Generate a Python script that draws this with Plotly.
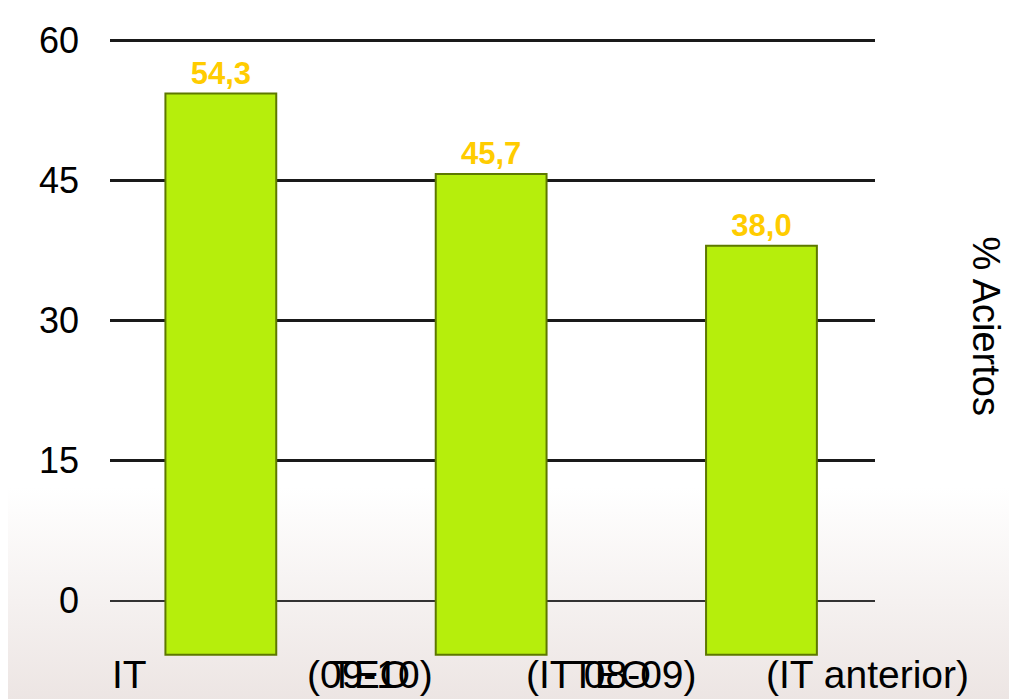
import plotly.graph_objects as go

# datos
CATEGORIAS = ["IT (09-10)", "TEO (IT 08-09)", "TEO (IT anterior)"]
ACIERTOS = [54.3, 45.7, 38.0]
TICKS_Y = [0, 15, 30, 45, 60]
# textos del eje x tal como aparecen (las dos líneas quedan en una sola fila)
ETIQUETAS_X = ["IT", "(09-10)", "TEO", "(IT 08-09)", "TEO", "(IT anterior)"]
POS_ETIQUETAS = [0.026, 0.34, 0.34, 0.655, 0.655, 0.99]

VERDE = "#b6ee0c"
OLIVA = "#5d7800"
AMARILLO = "#ffcc00"
FUENTE = "Liberation Sans, Arial, sans-serif"

BASE = -5.8  # las barras "caen" por debajo del plano del 0

fondo = (
    "data:image/svg+xml;utf8,"
    "<svg xmlns='http://www.w3.org/2000/svg' width='10' height='100' preserveAspectRatio='none'>"
    "<defs><linearGradient id='g' x1='0' y1='0' x2='0' y2='1'>"
    "<stop offset='0' stop-color='%23ffffff'/>"
    "<stop offset='0.68' stop-color='%23ffffff'/>"
    "<stop offset='1' stop-color='%23ebe3e1'/>"
    "</linearGradient></defs>"
    "<rect width='10' height='100' fill='url(%23g)'/></svg>"
)

fig = go.Figure(
    go.Bar(
        x=CATEGORIAS,
        y=[v - BASE for v in ACIERTOS],
        base=BASE,
        customdata=ACIERTOS,
        texttemplate="%{customdata:.1f}",
        textposition="outside",
        cliponaxis=False,
        textfont=dict(family=FUENTE, size=31, color=AMARILLO, weight="bold"),
        marker=dict(color=VERDE, line=dict(color=OLIVA, width=2)),
        width=0.41,
    )
)

fig.add_layout_image(
    dict(
        source=fondo,
        xref="paper", yref="paper",
        x=-0.2, y=1.05, sizex=1.5, sizey=1.13,
        xanchor="left", yanchor="top",
        sizing="stretch", layer="below",
    )
)

anotaciones = [
    dict(
        text=t, x=px, y=-0.014, xref="paper", yref="paper",
        xanchor="center", yanchor="middle", showarrow=False,
        font=dict(family=FUENTE, size=39, color="#000"),
    )
    for t, px in zip(ETIQUETAS_X, POS_ETIQUETAS)
]
anotaciones.append(
    dict(
        text="% Aciertos", x=1.175, y=0.535, xref="paper", yref="paper",
        textangle=90, showarrow=False,
        font=dict(family=FUENTE, size=38, color="#000"),
    )
)

fig.update_layout(
    width=1009,
    height=691,
    margin=dict(l=102, r=142, t=18, b=33),
    paper_bgcolor="white",
    plot_bgcolor="rgba(0,0,0,0)",
    separators=",.",
    showlegend=False,
    annotations=anotaciones,
    xaxis=dict(
        range=[-0.41, 2.42],
        showticklabels=False,
        showgrid=False,
        zeroline=False,
    ),
    yaxis=dict(
        range=[-7, 61],
        tickvals=TICKS_Y,
        showgrid=True,
        gridcolor="#1a1a1a",
        gridwidth=2.5,
        zeroline=True,
        zerolinecolor="#333",
        zerolinewidth=2,
        ticklabelstandoff=30,
        tickfont=dict(family=FUENTE, size=36, color="#000"),
    ),
)

fig.write_html("out.html")
